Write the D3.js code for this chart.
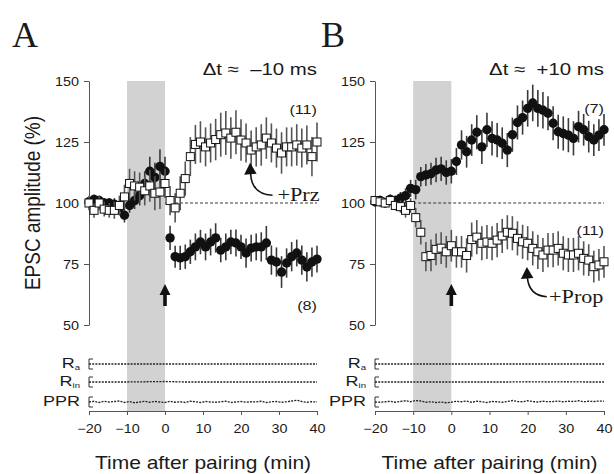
<!DOCTYPE html>
<html><head><meta charset="utf-8">
<script src="https://cdn.jsdelivr.net/npm/d3@7"></script>
<style>body{margin:0;background:#fff;} svg{display:block;}</style>
</head><body>
<svg id="c" width="614" height="474"></svg>
<script>
// ---------- data ----------
const times = [-20,-18.67,-17.33,-16,-14.67,-13.33,-12,-10.67,-9.33,-8,-6.67,-5.33,-4,-2.67,-1.33,0,
  1.33,2.67,4,5.33,6.67,8,9.33,10.67,12,13.33,14.67,16,17.33,18.67,20,21.33,22.67,24,25.33,26.67,28,29.33,30.67,32,33.33,34.67,36,37.33,38.67,40];

const aBlack = [100.5,101.5,101,100,100,99.5,98,95,99,101,103,108,113,110.5,115,113,
  85.7,78,77.5,78,80,82,84,82,84,85.7,80.7,82,84,83.6,82,79.5,81.5,82,82,83.6,76.6,75.8,71.7,75.4,78,79.5,76.6,73.8,75.8,77];
const aBlackErr = [2,2,2,2,2,2.5,3,3,3,3.5,4,5,6,6,7,6,
  5,4.5,5,5,5,5.5,5,5.5,5.5,6,5,5.5,5,5.5,5,6,5.5,5.5,6,7,6,6,6.5,6,6,5.5,6,6,6,5.5];
const aWhite = [100,97,100,97.5,97,97,99,102.5,108,107,106.5,105,107,104,104.5,108,
  101,98,104,110,119,124,125,123,124.6,126,128,128.7,126.6,129,125.8,124.6,121.7,123,123.8,126.6,124.6,122.5,120.5,123,123,123.8,122.5,123.8,119,125];
const aWhiteErr = [3,3,3,3,3,3.5,4,5,6,6,6,6,6.5,7,7,6,
  6,6,7,7,8,8,8.5,8,8,8.5,9,9,8.5,9,8.5,8,8,8,8.5,8.5,8,8,8.5,8,8,8.5,8,8,8,8];

const bBlack = [100.5,101,100,101.5,101,102,103,106,105.5,110.8,111.5,112,113.5,114,112.5,113,
  117,123.8,121,125.8,129,123,130,126.5,125.8,124.5,121.7,128,133,135,138.8,141,138.8,138,136.8,132.7,129.2,128.5,127.8,126.5,131.3,130,127.2,125.8,127.8,130];
const bBlackErr = [2,2,2,2,2,2.5,3,3.5,4,4,4.5,4.5,5,5,5,5,
  5.5,6,6.5,6.5,7,7,7,7,7,6.5,7,7,7,7,7.5,7.5,7.5,7.5,7,7,7,7,7,7,6.5,6.5,6.5,6.5,6.5,6.5];
const bWhite = [101,100.5,100,101,99,98.5,97,99,94,88,78,78.5,81,81.5,80,82.5,
  80,80,78.5,85,86,83.5,84,83.5,84.8,86.5,88,87.6,85.5,84.1,83.5,81.4,80,78.7,80.7,80.7,81.4,79.4,78.7,78.7,79.4,77.3,76.6,73.9,74.6,75.9];
const bWhiteErr = [2,2,2,2,2,2.5,3,3,4,5,6,6.5,6.5,6.5,6.5,6.5,
  6.5,6.5,7,7,7,7,7,7,7,7,7,7,7,7,7,7,7,7,7,7,7,7,7,7,7,7,6.5,6.5,6.5,6.5];

const pprA = [1,1.03,0.98,1.03,1,1.02,1.04,0.98,1.02,0.97,1,1.03,0.99,1.02,1,0.98,
  1.03,0.99,1.01,0.98,1.03,1.01,0.98,1.02,1,0.99,1.01,1.03,0.98,1,1.02,0.99,1.01,1,1.03,0.98,1.01,1.02,0.99,1.01,1.04,1.07,1.02,0.99,1.01,1];
const pprB = [1,0.99,1.01,1.03,0.99,1.02,1.05,1.01,1.06,1.04,0.99,1.01,0.98,1,0.97,0.99,
  1.03,1.01,1.04,0.99,1.03,1.01,0.98,1.02,1.01,0.99,1.02,1.06,1.02,1.01,1.05,1.02,1,1.03,1.01,1.02,1.04,1.01,1.03,1.02,1.05,1.01,1.03,1.02,1.04,1.03];
const traceTimes = [-20,-15,-10,-5,0,5,10,15,20,25,30,35,40];
const raA  = [1,1,1,1,1,1,1,1,1,1,1,1,1];
const rinA = [1,1,1,1.01,1.02,1,1,1,1,1,1,1,1];
const raB  = [1,1,1,1,1,1,1,1,1,1,1,1,1];
const rinB = [1,1,1,1,1,1,1,1,1.01,1,1.01,1,1];

const yTicks = [50,75,100,125,150];
const xTicks = [-20,-10,0,10,20,30,40];
const panelLetters = ["A","B"];
const deltaLabels = ["Δt ≈  –10 ms","Δt ≈  +10 ms"];
const blackN = ["(8)","(7)"];
const whiteN = ["(11)","(11)"];
const drugLabels = ["+Prz","+Prop"];
const traceNames = [["R","a"],["R","in"],["PPR",""]];
const xTitle = "Time after pairing (min)";
const yTitle = "EPSC amplitude (%)";

// ---------- drawing ----------
const svg = d3.select("#c");
const SX = 1.2;
const SANS = "'Liberation Sans', Arial, Helvetica, sans-serif";
const SERIF = "'Liberation Serif', 'Times New Roman', serif";
function label(g, x, y, str, o = {}) {
  const t = g.append("text")
    .attr("transform", `translate(${x},${y}) scale(${o.sx ?? SX},1)` + (o.rot ? ` rotate(${o.rot})` : ""))
    .attr("text-anchor", o.anchor || "start")
    .attr("font-family", o.serif ? SERIF : SANS)
    .attr("font-size", o.size || 12)
    .attr("fill", o.fill || "#1a1a1a")
    .style("white-space", "pre")
    .text(str);
  return t;
}

const panels = [
  {left: 89, right: 317, black: aBlack, blackErr: aBlackErr, white: aWhite, whiteErr: aWhiteErr,
   ppr: pprA, ra: raA, rin: rinA, letterX: 12, dashStart: 0,
   drug: {tip: [22.4, 116.5], c0: [28.3, 103.2], cq: [22.8, 103.6], text: [29.6, 100.8]}},
  {left: 375, right: 604, black: bBlack, blackErr: bBlackErr, white: bWhite, whiteErr: bWhiteErr,
   ppr: pprB, ra: raB, rin: rinB, letterX: 321, dashStart: -10,
   drug: {tip: [19.8, 73.8], c0: [25.0, 61.6], cq: [20.4, 62.0], text: [25.6, 59.2]}}
];

const yTop = 81, yBot = 325, axisY = 411;
const rowY = [364, 382, 402];

panels.forEach((p, i) => {
  const g = svg.append("g");
  const x = d3.scaleLinear().domain([-20, 40]).range([p.left, p.right]);
  const y = d3.scaleLinear().domain([50, 150]).range([yBot, yTop]);

  // pairing band
  g.append("rect").attr("x", x(-10)).attr("y", yTop).attr("width", x(0) - x(-10))
    .attr("height", axisY - yTop).attr("fill", "#d2d2d2");

  // baseline
  g.append("line").attr("x1", x(p.dashStart)).attr("x2", x(40)).attr("y1", y(100)).attr("y2", y(100))
    .attr("stroke", "#222").attr("stroke-width", 0.9).attr("stroke-dasharray", "3,2");

  // Ra / Rin / PPR traces
  const traces = [[traceTimes, p.ra], [traceTimes, p.rin], [times, p.ppr]];
  traces.forEach((tr, k) => {
    const ry = rowY[k];
    const ty = v => ry - (v - 1) * 25;
    g.append("path").attr("d", `M${p.left + 4},${ry - 5}H${p.left}V${ry + 5}H${p.left + 4}`)
      .attr("fill", "none").attr("stroke", "#333").attr("stroke-width", 1);
    const line = d3.line().x((d, j) => x(tr[0][j])).y(d => ty(d));
    g.append("path").attr("d", line(tr[1])).attr("fill", "none")
      .attr("stroke", "#222").attr("stroke-width", 1.3).attr("stroke-dasharray", "2,1.2");
    const t = label(g, p.left - 9, ry + 4, traceNames[k][0], {anchor: "end", size: 15});
    if (traceNames[k][1]) {
      t.text(null);
      t.append("tspan").text(traceNames[k][0]);
      t.append("tspan").attr("font-size", 8).attr("dy", 2).text(traceNames[k][1]);
    }
  });

  // axes
  const ya = g.append("g").attr("transform", `translate(${p.left},0)`)
    .call(d3.axisLeft(y).tickValues(yTicks).tickSize(5).tickSizeOuter(0));
  const xa = g.append("g").attr("transform", `translate(0,${axisY})`)
    .call(d3.axisBottom(x).tickValues(xTicks).tickSize(4).tickSizeOuter(0));
  [ya, xa].forEach(a => {
    a.select(".domain").attr("stroke", "#555");
    a.selectAll(".tick line").attr("stroke", "#555");
    a.selectAll(".tick text").attr("fill", "#1a1a1a").attr("font-family", SANS).attr("font-size", 12);
  });
  ya.selectAll(".tick text").attr("x", -10 / SX).attr("dy", "0.35em").attr("transform", `scale(${SX},1)`);
  xa.selectAll(".tick text").attr("y", 22).attr("dy", 0).attr("transform", `scale(${SX},1)`);

  // error bars + markers
  const ebBlack = g.append("g");
  p.black.forEach((v, j) => {
    ebBlack.append("line").attr("x1", x(times[j])).attr("x2", x(times[j]))
      .attr("y1", y(v - p.blackErr[j])).attr("y2", y(v + p.blackErr[j]))
      .attr("stroke", "#3a3a3a").attr("stroke-width", 1.6);
  });
  g.append("g").selectAll("circle").data(p.black).join("circle")
    .attr("cx", (d, j) => x(times[j])).attr("cy", d => y(d)).attr("r", 4.7).attr("fill", "#111");
  const ebWhite = g.append("g");
  p.white.forEach((v, j) => {
    ebWhite.append("line").attr("x1", x(times[j])).attr("x2", x(times[j]))
      .attr("y1", y(v - p.whiteErr[j])).attr("y2", y(v + p.whiteErr[j]))
      .attr("stroke", "#555").attr("stroke-width", 1.6);
  });
  g.append("g").selectAll("rect").data(p.white).join("rect")
    .attr("x", (d, j) => x(times[j]) - 4).attr("y", d => y(d) - 4).attr("width", 8).attr("height", 8)
    .attr("fill", "#fff").attr("stroke", "#111").attr("stroke-width", 1);

  // pairing arrow
  const ax = x(0);
  g.append("path").attr("d", `M${ax},${284}L${ax - 5.5},${295}L${ax - 1.8},${295}L${ax - 1.8},${306}L${ax + 1.8},${306}L${ax + 1.8},${295}L${ax + 5.5},${295}Z`)
    .attr("fill", "#111");

  // drug arrow
  const d = p.drug;
  g.append("path").attr("d", `M${x(d.c0[0])},${y(d.c0[1])}Q${x(d.cq[0])},${y(d.cq[1])} ${x(d.tip[0]) + 0.5},${y(d.tip[1]) + 11}`)
    .attr("fill", "none").attr("stroke", "#111").attr("stroke-width", 1.6);
  g.append("path").attr("d", `M${x(d.tip[0])},${y(d.tip[1])}L${x(d.tip[0]) - 6},${y(d.tip[1]) + 12}L${x(d.tip[0]) + 6.5},${y(d.tip[1]) + 11}Z`)
    .attr("fill", "#111");
  label(g, x(d.text[0]), y(d.text[1]), drugLabels[i], {serif: true, size: 18.5});

  // texts
  label(g, p.letterX, 47, panelLetters[i], {serif: true, size: 36, sx: 1});
  label(g, p.right, 75, deltaLabels[i], {anchor: "end", size: 17});
  if (i === 0) {
    label(g, p.right, 114, whiteN[i], {anchor: "end", size: 13.5});
    label(g, p.right, 310, blackN[i], {anchor: "end", size: 13.5});
  } else {
    label(g, p.right, 113, blackN[i], {anchor: "end", size: 13.5});
    label(g, p.right, 235, whiteN[i], {anchor: "end", size: 13.5});
  }
  label(g, (p.left + p.right) / 2, 469, xTitle, {anchor: "middle", size: 17.5});
});

label(svg, 40, 203, yTitle, {anchor: "middle", size: 19, rot: -90});
</script>
</body></html>
